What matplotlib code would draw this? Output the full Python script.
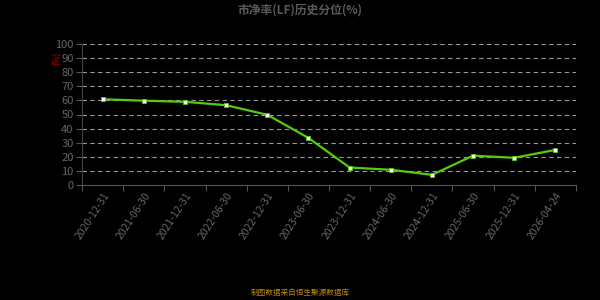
import matplotlib
matplotlib.use("Agg")
import matplotlib.pyplot as plt

plt.rcParams['font.family'] = ['Noto Sans CJK SC', 'DejaVu Sans']

dates = ["2020-12-31", "2021-06-30", "2021-12-31", "2022-06-30", "2022-12-31",
         "2023-06-30", "2023-12-31", "2024-06-30", "2024-12-31", "2025-06-30",
         "2025-12-31", "2026-04-24"]
values = [60.8, 59.8, 59.0, 56.6, 49.8, 33.4, 12.4, 10.8, 7.2, 20.8, 19.3, 24.9]
yticks = list(range(0, 101, 10))

fig = plt.figure(figsize=(6, 3), dpi=100, facecolor='black')
ax = fig.add_axes([82/600, 1-185/300, (576-82)/600, (185-44)/300])
ax.set_facecolor('black')

x = list(range(len(dates)))
ax.plot(x, values, color='#55cc11', lw=1.6, marker='s', markersize=3,
        markerfacecolor='white', markeredgecolor='#55cc11', markeredgewidth=0.6, zorder=3)

ax.set_xlim(-0.5, len(dates) - 0.5)
ax.set_ylim(0, 100)
ax.set_yticks(yticks)
ax.set_yticklabels([str(v) for v in yticks], color='#666666', fontsize=8)
ax.set_xticks([i - 0.5 for i in range(len(dates) + 1)], minor=False)
ax.set_xticklabels([])
ax.set_xticks(x, minor=True)
ax.set_xticklabels(dates, minor=True, rotation=57, ha='right', rotation_mode='anchor',
                   color='#666666', fontsize=7.5)
ax.tick_params(axis='x', which='minor', length=0, pad=4)
ax.tick_params(axis='x', which='major', length=4, color='#555555')
ax.tick_params(axis='y', length=4, color='#555555', pad=2)

for v in yticks[1:]:
    ax.axhline(v, color='#999999', lw=0.8, ls=(0, (4, 3)), zorder=1)

for s in ['top', 'right']:
    ax.spines[s].set_visible(False)
ax.spines['left'].set_color('#444444')
ax.spines['bottom'].set_color('#555555')

fig.text(0.5, 1-10/300, "市净率(LF)历史分位(%)", ha='center', va='center',
         color='#5a5a5a', fontsize=8.5, fontweight='bold')
fig.text(57/600, 1-58/300, "(%)", ha='center', va='center', color='#cc0000',
         fontsize=6, rotation=90)
fig.text(0.5, 1-293/300, "制图数据来自恒生聚源数据库", ha='center', va='center',
         color='#b8860b', fontsize=5.5)

fig.savefig("out.png", dpi=100, facecolor='black')
